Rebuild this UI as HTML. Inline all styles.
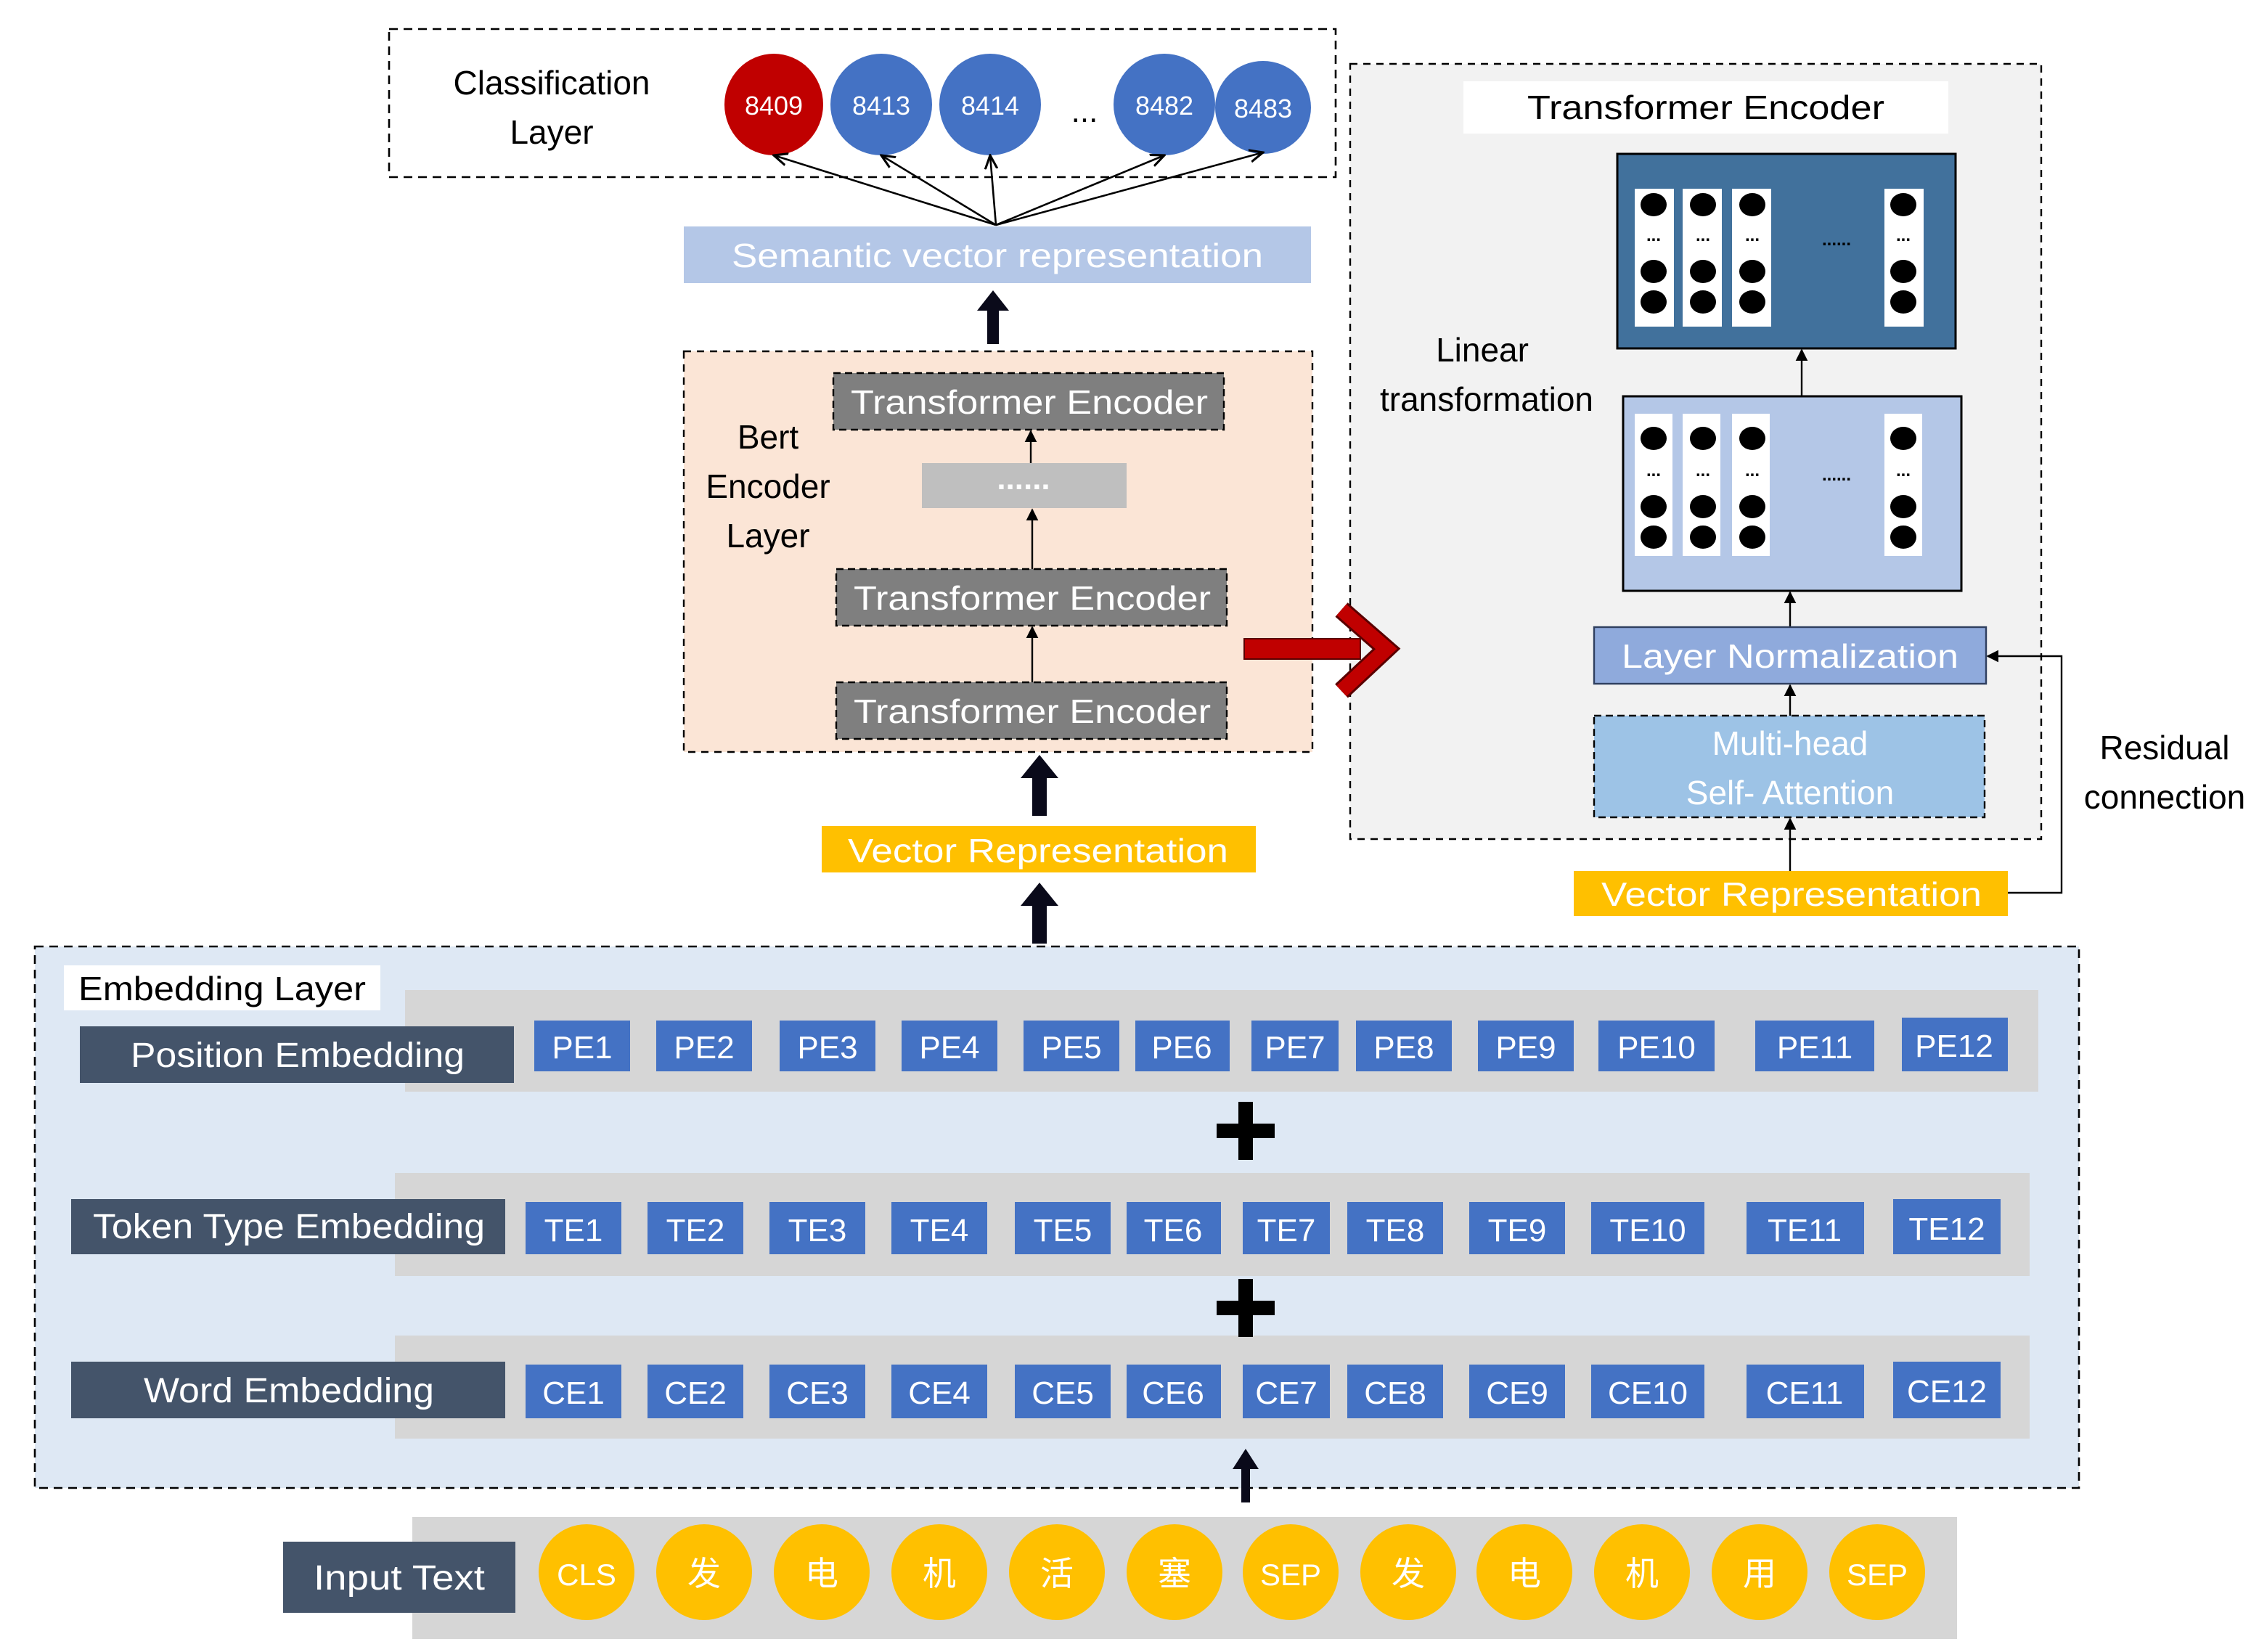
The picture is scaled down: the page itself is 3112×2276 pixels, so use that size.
<!DOCTYPE html>
<html><head><meta charset="utf-8"><style>
html,body{margin:0;padding:0;background:#fff}
svg{display:block}
text{font-family:"Liberation Sans","Noto Sans CJK SC",sans-serif}
</style></head><body>
<svg width="3112" height="2276" viewBox="0 0 1556 1138" preserveAspectRatio="none" xmlns="http://www.w3.org/2000/svg">
<defs>
<marker id="ah" viewBox="0 0 10 10" refX="9" refY="5" markerWidth="7" markerHeight="7" orient="auto-start-reverse"><path d="M0,0 L10,5 L0,10 z" fill="#000"/></marker>
<marker id="oa" viewBox="0 0 10 10" refX="9" refY="5" markerWidth="8" markerHeight="8" orient="auto"><path d="M0,1 L9,5 L0,9" fill="none" stroke="#000" stroke-width="1.5"/></marker>
</defs>
<rect width="1556" height="1138" fill="#fff"/>

<rect x="268" y="20" width="652" height="102" fill="#fff" stroke="#000" stroke-dasharray="6,4" stroke-width="1.3"/>
<text x="380" y="65" font-size="23" text-anchor="middle">Classification</text>
<text x="380" y="99" font-size="23" text-anchor="middle">Layer</text>
<ellipse cx="533" cy="72" rx="34" ry="35" fill="#c00000"/>
<ellipse cx="607" cy="72" rx="35" ry="35" fill="#4472c4"/>
<ellipse cx="682" cy="72" rx="35" ry="35" fill="#4472c4"/>
<ellipse cx="802" cy="72" rx="35" ry="35" fill="#4472c4"/>
<ellipse cx="870" cy="74" rx="33" ry="32" fill="#4472c4"/>
<g font-size="18" fill="#fff" text-anchor="middle">
<text x="533" y="79">8409</text><text x="607" y="79">8413</text><text x="682" y="79">8414</text><text x="802" y="79">8482</text><text x="870" y="81">8483</text>
</g>
<text x="747" y="84" font-size="22" text-anchor="middle">...</text>
<g stroke="#000" stroke-width="1.3" marker-end="url(#oa)">
<line x1="686" y1="155" x2="533" y2="107"/>
<line x1="686" y1="155" x2="607" y2="107"/>
<line x1="686" y1="155" x2="682" y2="107"/>
<line x1="686" y1="155" x2="802" y2="107"/>
<line x1="686" y1="155" x2="870" y2="105"/>
</g>
<rect x="471" y="156" width="432" height="39" fill="#b4c7e7"/>
<text x="687" y="184" font-size="23" fill="#fff" text-anchor="middle" textLength="366" lengthAdjust="spacingAndGlyphs">Semantic vector representation</text>

<g fill="#0a0a1a">
<polygon points="680,237 688,237 688,214 695,214 684,200 673,214 680,214"/>
<polygon points="711,562 721,562 721,536 729,536 716,520 703,536 711,536"/>
<polygon points="711,650 721,650 721,624 729,624 716,608 703,624 711,624"/>
</g>

<rect x="471" y="242" width="433" height="276" fill="#fbe5d6" stroke="#000" stroke-dasharray="5,4" stroke-width="1.2"/>
<g font-size="23" text-anchor="middle"><text x="529" y="309">Bert</text><text x="529" y="343">Encoder</text><text x="529" y="377">Layer</text></g>
<g fill="#7f7f7f" stroke="#000" stroke-dasharray="5,3" stroke-width="1.2">
<rect x="574" y="257" width="269" height="39"/>
<rect x="576" y="392" width="269" height="39"/>
<rect x="576" y="470" width="269" height="39"/>
</g>
<g font-size="23" fill="#fff" text-anchor="middle">
<text x="709" y="285" textLength="246" lengthAdjust="spacingAndGlyphs">Transformer Encoder</text>
<text x="711" y="420" textLength="246" lengthAdjust="spacingAndGlyphs">Transformer Encoder</text>
<text x="711" y="498" textLength="246" lengthAdjust="spacingAndGlyphs">Transformer Encoder</text>
</g>
<rect x="635" y="319" width="141" height="31" fill="#bfbfbf"/>
<text x="705" y="337" font-size="22" fill="#fff" text-anchor="middle" font-weight="bold">......</text>
<g stroke="#000" stroke-width="1.2" marker-end="url(#ah)">
<line x1="710" y1="319" x2="710" y2="297"/>
<line x1="711" y1="392" x2="711" y2="351"/>
<line x1="711" y1="470" x2="711" y2="432"/>
</g>

<rect x="566" y="569" width="299" height="32" fill="#ffc000"/>
<text x="715" y="594" font-size="23" fill="#fff" text-anchor="middle" textLength="262" lengthAdjust="spacingAndGlyphs">Vector Representation</text>

<rect x="930" y="44" width="476" height="534" fill="#f2f2f2" stroke="#000" stroke-dasharray="5,4" stroke-width="1.2"/>
<rect x="1008" y="56" width="334" height="36" fill="#fff"/>
<text x="1175" y="82" font-size="23" text-anchor="middle" textLength="246" lengthAdjust="spacingAndGlyphs">Transformer Encoder</text>
<rect x="1114" y="106" width="233" height="134" fill="#41719c" stroke="#000" stroke-width="1.5"/>
<g fill="#fff">
<rect x="1126" y="130" width="27" height="95"/><rect x="1159" y="130" width="27" height="95"/><rect x="1193" y="130" width="27" height="95"/><rect x="1298" y="130" width="27" height="95"/>
</g>
<g fill="#000">
<ellipse cx="1139" cy="141" rx="9" ry="8"/><ellipse cx="1139" cy="187" rx="9" ry="8"/><ellipse cx="1139" cy="208" rx="9" ry="8"/>
<ellipse cx="1173" cy="141" rx="9" ry="8"/><ellipse cx="1173" cy="187" rx="9" ry="8"/><ellipse cx="1173" cy="208" rx="9" ry="8"/>
<ellipse cx="1207" cy="141" rx="9" ry="8"/><ellipse cx="1207" cy="187" rx="9" ry="8"/><ellipse cx="1207" cy="208" rx="9" ry="8"/>
<ellipse cx="1311" cy="141" rx="9" ry="8"/><ellipse cx="1311" cy="187" rx="9" ry="8"/><ellipse cx="1311" cy="208" rx="9" ry="8"/>
</g>
<rect x="1118" y="273" width="233" height="134" fill="#b4c7e7" stroke="#000" stroke-width="1.5"/>
<g fill="#fff">
<rect x="1126" y="285" width="26" height="98"/><rect x="1159" y="285" width="26" height="98"/><rect x="1193" y="285" width="26" height="98"/><rect x="1298" y="285" width="26" height="98"/>
</g>
<g fill="#000">
<ellipse cx="1139" cy="302" rx="9" ry="8"/><ellipse cx="1139" cy="349" rx="9" ry="8"/><ellipse cx="1139" cy="370" rx="9" ry="8"/>
<ellipse cx="1173" cy="302" rx="9" ry="8"/><ellipse cx="1173" cy="349" rx="9" ry="8"/><ellipse cx="1173" cy="370" rx="9" ry="8"/>
<ellipse cx="1207" cy="302" rx="9" ry="8"/><ellipse cx="1207" cy="349" rx="9" ry="8"/><ellipse cx="1207" cy="370" rx="9" ry="8"/>
<ellipse cx="1311" cy="302" rx="9" ry="8"/><ellipse cx="1311" cy="349" rx="9" ry="8"/><ellipse cx="1311" cy="370" rx="9" ry="8"/>
</g>
<g font-size="12" text-anchor="middle" font-weight="bold">
<text x="1139" y="166">...</text><text x="1173" y="166">...</text><text x="1207" y="166">...</text><text x="1311" y="166">...</text><text x="1265" y="169">......</text>
<text x="1139" y="328">...</text><text x="1173" y="328">...</text><text x="1207" y="328">...</text><text x="1311" y="328">...</text><text x="1265" y="331">......</text>
</g>
<g stroke="#000" stroke-width="1.2" marker-end="url(#ah)">
<line x1="1241" y1="273" x2="1241" y2="241"/>
<line x1="1233" y1="432" x2="1233" y2="408"/>
<line x1="1233" y1="493" x2="1233" y2="472"/>
<line x1="1233" y1="600" x2="1233" y2="564"/>
<polyline points="1383,615 1420,615 1420,452 1369,452" fill="none"/>
</g>
<g font-size="23" text-anchor="middle"><text x="1021" y="249">Linear</text><text x="1024" y="283">transformation</text>
<text x="1491" y="523">Residual</text><text x="1491" y="557">connection</text></g>
<rect x="1098" y="432" width="270" height="39" fill="#8faadc" stroke="#2f3f5f" stroke-width="1.2"/>
<text x="1233" y="460" font-size="23" fill="#fff" text-anchor="middle" textLength="232" lengthAdjust="spacingAndGlyphs">Layer Normalization</text>
<rect x="1098" y="493" width="269" height="70" fill="#9dc3e6" stroke="#000" stroke-dasharray="5,3" stroke-width="1.2"/>
<g font-size="23" fill="#fff" text-anchor="middle"><text x="1233" y="520">Multi-head</text><text x="1233" y="554">Self- Attention</text></g>
<rect x="1084" y="600" width="299" height="31" fill="#ffc000"/>
<text x="1234" y="624" font-size="23" fill="#fff" text-anchor="middle" textLength="262" lengthAdjust="spacingAndGlyphs">Vector Representation</text>

<rect x="857" y="440" width="80" height="14" fill="#c00000" stroke="#5a0000" stroke-width="1"/>
<polyline points="924,420 955,447 924,476" fill="none" stroke="#5a0000" stroke-width="13"/>
<polyline points="924,420 955,447 924,476" fill="none" stroke="#c00000" stroke-width="10"/>

<rect x="24" y="652" width="1408" height="373" fill="#dee8f4" stroke="#000" stroke-dasharray="6,4" stroke-width="1.3"/>
<rect x="44" y="665" width="218" height="31" fill="#fff"/>
<text x="153" y="689" font-size="23" text-anchor="middle" textLength="198" lengthAdjust="spacingAndGlyphs">Embedding Layer</text>
<rect x="279" y="682" width="1125" height="70" fill="#d6d6d6"/>
<rect x="272" y="808" width="1126" height="71" fill="#d6d6d6"/>
<rect x="272" y="920" width="1126" height="71" fill="#d6d6d6"/>
<g fill="#44546a">
<rect x="55" y="707" width="299" height="39"/>
<rect x="49" y="826" width="299" height="38"/>
<rect x="49" y="938" width="299" height="39"/>
</g>
<g font-size="24" fill="#fff" text-anchor="middle">
<text x="205" y="735" textLength="230" lengthAdjust="spacingAndGlyphs">Position Embedding</text>
<text x="199" y="853" textLength="270" lengthAdjust="spacingAndGlyphs">Token Type Embedding</text>
<text x="199" y="966" textLength="200" lengthAdjust="spacingAndGlyphs">Word Embedding</text>
</g>
<g fill="#4472c4">
<rect x="368" y="703" width="66" height="35"/><rect x="452" y="703" width="66" height="35"/><rect x="537" y="703" width="66" height="35"/><rect x="621" y="703" width="66" height="35"/><rect x="705" y="703" width="66" height="35"/><rect x="782" y="703" width="65" height="35"/><rect x="862" y="703" width="60" height="35"/><rect x="934" y="703" width="66" height="35"/><rect x="1018" y="703" width="66" height="35"/><rect x="1101" y="703" width="80" height="35"/><rect x="1209" y="703" width="82" height="35"/><rect x="1310" y="701" width="73" height="37"/>
<rect x="362" y="828" width="66" height="36"/><rect x="446" y="828" width="66" height="36"/><rect x="530" y="828" width="66" height="36"/><rect x="614" y="828" width="66" height="36"/><rect x="699" y="828" width="66" height="36"/><rect x="776" y="828" width="65" height="36"/><rect x="856" y="828" width="60" height="36"/><rect x="928" y="828" width="66" height="36"/><rect x="1012" y="828" width="66" height="36"/><rect x="1096" y="828" width="78" height="36"/><rect x="1203" y="828" width="81" height="36"/><rect x="1304" y="826" width="74" height="38"/>
<rect x="362" y="940" width="66" height="37"/><rect x="446" y="940" width="66" height="37"/><rect x="530" y="940" width="66" height="37"/><rect x="614" y="940" width="66" height="37"/><rect x="699" y="940" width="66" height="37"/><rect x="776" y="940" width="65" height="37"/><rect x="856" y="940" width="60" height="37"/><rect x="928" y="940" width="66" height="37"/><rect x="1012" y="940" width="66" height="37"/><rect x="1096" y="940" width="78" height="37"/><rect x="1203" y="940" width="81" height="37"/><rect x="1304" y="938" width="74" height="39"/>
</g>
<g font-size="22" fill="#fff" text-anchor="middle">
<text x="401" y="729">PE1</text><text x="485" y="729">PE2</text><text x="570" y="729">PE3</text><text x="654" y="729">PE4</text><text x="738" y="729">PE5</text><text x="814" y="729">PE6</text><text x="892" y="729">PE7</text><text x="967" y="729">PE8</text><text x="1051" y="729">PE9</text><text x="1141" y="729">PE10</text><text x="1250" y="729">PE11</text><text x="1346" y="728">PE12</text>
<text x="395" y="855">TE1</text><text x="479" y="855">TE2</text><text x="563" y="855">TE3</text><text x="647" y="855">TE4</text><text x="732" y="855">TE5</text><text x="808" y="855">TE6</text><text x="886" y="855">TE7</text><text x="961" y="855">TE8</text><text x="1045" y="855">TE9</text><text x="1135" y="855">TE10</text><text x="1243" y="855">TE11</text><text x="1341" y="854">TE12</text>
<text x="395" y="967">CE1</text><text x="479" y="967">CE2</text><text x="563" y="967">CE3</text><text x="647" y="967">CE4</text><text x="732" y="967">CE5</text><text x="808" y="967">CE6</text><text x="886" y="967">CE7</text><text x="961" y="967">CE8</text><text x="1045" y="967">CE9</text><text x="1135" y="967">CE10</text><text x="1243" y="967">CE11</text><text x="1341" y="966">CE12</text>
</g>
<g fill="#000">
<rect x="838" y="774" width="40" height="10"/><rect x="853" y="759" width="10" height="40"/>
<rect x="838" y="896" width="40" height="10"/><rect x="853" y="881" width="10" height="40"/>
</g>
<polygon points="855,1035 861,1035 861,1012 867,1012 858,998 849,1012 855,1012" fill="#0a0a1a"/>

<rect x="284" y="1045" width="1064" height="84" fill="#d6d6d6"/>
<rect x="195" y="1062" width="160" height="49" fill="#44546a"/>
<text x="275" y="1095" font-size="24" fill="#fff" text-anchor="middle" textLength="118" lengthAdjust="spacingAndGlyphs">Input Text</text>
<g fill="#ffc000">
<circle cx="404" cy="1083" r="33"/><circle cx="485" cy="1083" r="33"/><circle cx="566" cy="1083" r="33"/><circle cx="647" cy="1083" r="33"/><circle cx="728" cy="1083" r="33"/><circle cx="809" cy="1083" r="33"/><circle cx="889" cy="1083" r="33"/><circle cx="970" cy="1083" r="33"/><circle cx="1050" cy="1083" r="33"/><circle cx="1131" cy="1083" r="33"/><circle cx="1212" cy="1083" r="33"/><circle cx="1293" cy="1083" r="33"/>
</g>
<g font-size="23" fill="#fff" text-anchor="middle">
<text x="404" y="1092" font-size="21">CLS</text><text x="485" y="1092">发</text><text x="566" y="1092">电</text><text x="647" y="1092">机</text><text x="728" y="1092">活</text><text x="809" y="1092">塞</text><text x="889" y="1092" font-size="21">SEP</text><text x="970" y="1092">发</text><text x="1050" y="1092">电</text><text x="1131" y="1092">机</text><text x="1212" y="1092">用</text><text x="1293" y="1092" font-size="21">SEP</text>
</g>
</svg>
</body></html>
